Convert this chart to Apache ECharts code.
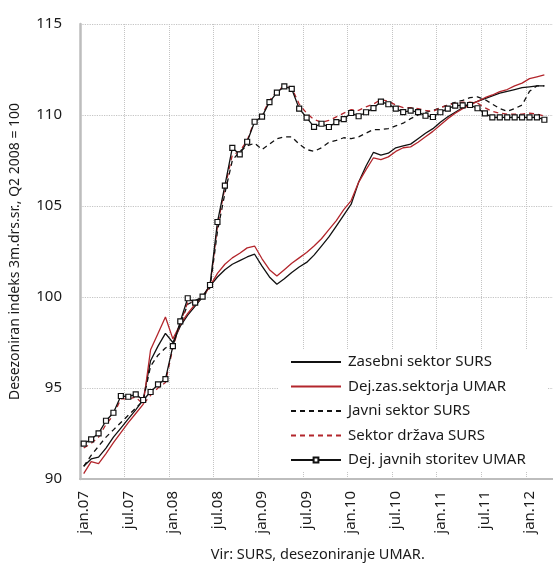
<!DOCTYPE html>
<html>
<head>
<meta charset="utf-8">
<script src="https://cdn.jsdelivr.net/npm/echarts@6/dist/echarts.min.js"></script>
<style>
  html, body { margin: 0; padding: 0; background: #fff; }
  #chart { width: 553px; height: 564px; }
</style>
</head>
<body>
<div id="chart"></div>
<script>
// Monthly categories jan.07 – apr.12
const monthNames = ['jan', 'feb', 'mar', 'apr', 'maj', 'jun', 'jul', 'avg', 'sep', 'okt', 'nov', 'dec'];
const years = ['07', '08', '09', '10', '11', '12'];
const categories = [];
years.forEach(function (y) {
  monthNames.forEach(function (m) {
    if (categories.length < 64) categories.push(m + '.' + y);
  });
});

// Seasonally adjusted indices, Q2 2008 = 100
const zasebniSURS = [
  90.7, 91.1, 91.2, 91.7, 92.3, 92.8, 93.3, 93.8, 94.35, 96.5,
  97.3, 98.0, 97.5, 98.4, 99.0, 99.5, 100.0, 100.6, 101.1, 101.5,
  101.8, 102.0, 102.2, 102.35, 101.7, 101.1, 100.7, 101.0, 101.35, 101.65,
  101.9, 102.3, 102.8, 103.3, 103.9, 104.5, 105.1, 106.3, 107.2, 107.95,
  107.8, 107.9, 108.2, 108.3, 108.4, 108.7, 109.0, 109.25, 109.6, 109.9,
  110.15, 110.4, 110.6, 110.75, 110.9, 111.05, 111.2, 111.3, 111.4, 111.5,
  111.55, 111.6, 111.6
];
const zasUMAR = [
  90.3, 90.95, 90.85, 91.4, 92.0, 92.55, 93.1, 93.6, 94.1, 97.1,
  98.0, 98.9, 97.7, 98.5, 99.1, 99.6, 100.05, 100.6, 101.3, 101.8,
  102.15, 102.4, 102.7, 102.8, 102.1, 101.5, 101.15, 101.5, 101.85, 102.15,
  102.45, 102.8, 103.2, 103.7, 104.2, 104.8, 105.3, 106.3, 107.0, 107.65,
  107.55, 107.7, 108.0, 108.2, 108.25, 108.5, 108.8, 109.1, 109.45, 109.8,
  110.1, 110.35, 110.55, 110.75, 110.95, 111.1, 111.28, 111.4, 111.6, 111.75,
  112.0, 112.1, 112.2
];
const javniSURS = [
  90.7, 91.3, 91.8, 92.3, 92.7, 93.1, 93.5, 93.9, 94.3, 96.2,
  96.8, 97.2, 97.4, 98.5, 99.6, 99.8, 100.0, 100.5, 103.6, 105.7,
  107.5, 108.0, 108.3, 108.45, 108.1, 108.4, 108.7, 108.8, 108.8, 108.4,
  108.1, 108.0, 108.2, 108.5, 108.6, 108.75, 108.7, 108.8, 109.0, 109.2,
  109.2, 109.25, 109.4, 109.55, 109.8, 110.0, 110.15, 110.25, 110.4, 110.55,
  110.7, 110.8, 110.95, 111.0, 110.85, 110.6, 110.35, 110.2, 110.35, 110.55,
  111.3, 111.6, 111.6
];
const drzavaSURS = [
  91.7, 91.95, 92.3, 93.0, 93.5, 94.4, 94.4, 94.5, 94.1, 94.6,
  95.0, 95.3, 97.2, 98.6, 99.7, 99.75, 100.0, 100.6, 103.9, 106.0,
  107.8, 108.0, 108.6, 109.7, 110.0, 110.8, 111.3, 111.6, 111.5, 110.6,
  110.1, 109.75, 109.6, 109.7, 109.9, 110.1, 110.3, 110.25, 110.45, 110.6,
  110.85, 110.75, 110.55, 110.4, 110.4, 110.35, 110.25, 110.2, 110.4, 110.55,
  110.65, 110.7, 110.7, 110.65, 110.4, 110.2, 110.1, 110.05, 110.05, 110.05,
  110.1, 110.05, 109.95
];
const javneStoritveUMAR = [
  91.94, 92.18, 92.51, 93.2, 93.64, 94.56, 94.52, 94.65, 94.34, 94.78,
  95.2, 95.49, 97.3, 98.66, 99.93, 99.69, 100.02, 100.66, 104.12, 106.12,
  108.19, 107.84, 108.53, 109.63, 109.91, 110.71, 111.23, 111.57, 111.43, 110.35,
  109.86, 109.35, 109.52, 109.34, 109.61, 109.77, 110.11, 109.93, 110.15, 110.38,
  110.73, 110.59, 110.35, 110.16, 110.24, 110.16, 109.96, 109.89, 110.15, 110.35,
  110.51, 110.53, 110.55, 110.37, 110.09, 109.87, 109.87, 109.87, 109.87, 109.87,
  109.87, 109.87, 109.74
];

const seriesNames = [
  'Zasebni sektor SURS',
  'Dej.zas.sektorja UMAR',
  'Javni sektor SURS',
  'Sektor država SURS',
  'Dej. javnih storitev UMAR'
];

const yTicks = { min: 90, max: 115, interval: 5 };

const FONT = 'Noto Sans';
const RED = '#b3262c';
const GRID_GREY = '#c4c4c4';

function lineSeries(name, data, color, dashed) {
  return {
    name: name,
    type: 'line',
    data: data,
    symbol: 'none',
    showSymbol: false,
    lineStyle: { color: color, width: 1.3, type: dashed ? [5, 4] : 'solid' },
    itemStyle: { color: color },
    emphasis: { disabled: true },
    animation: false,
    z: 3
  };
}

// legend entries: plain line samples, small square on the last one
const noMarker = { color: 'rgba(0,0,0,0)', borderWidth: 0, borderColor: 'rgba(0,0,0,0)' };
const legendData = seriesNames.map(function (n, i) {
  return i < 4 ? { name: n, itemStyle: noMarker } : { name: n };
});

const chart = echarts.init(document.getElementById('chart'), null, { renderer: 'canvas' });

chart.setOption({
  animation: false,
  backgroundColor: '#ffffff',
  textStyle: { fontFamily: FONT },
  grid: {
    left: 80, top: 24, width: 475.5, height: 455,
    containLabel: false,
    outerBoundsMode: 'none'
  },
  legend: {
    orient: 'vertical',
    left: 279,
    top: 350,
    padding: [3, 22, 3, 11],
    backgroundColor: '#ffffff',
    itemWidth: 50,
    itemHeight: 6,
    itemGap: 6.5,
    textStyle: { fontFamily: FONT, fontSize: 15, lineHeight: 18, color: '#1a1a1a', padding: [0, 0, 0, 2] },
    data: legendData,
    z: 10
  },
  xAxis: {
    type: 'category',
    data: categories,
    boundaryGap: true,
    name: 'Vir: SURS, desezoniranje UMAR.',
    nameLocation: 'middle',
    nameGap: 68,
    nameTextStyle: { fontFamily: FONT, fontSize: 14.5, color: '#1a1a1a' },
    axisLine: { show: true, lineStyle: { color: '#bdbdbd', width: 2 } },
    axisTick: { show: false },
    axisLabel: {
      interval: 5,
      rotate: 90,
      margin: 12,
      fontFamily: FONT,
      fontSize: 15,
      color: '#1a1a1a'
    },
    splitLine: {
      show: true,
      interval: 5,
      lineStyle: { color: GRID_GREY, type: 'dotted', width: 1 }
    }
  },
  yAxis: {
    type: 'value',
    min: yTicks.min,
    max: yTicks.max,
    interval: yTicks.interval,
    name: 'Desezoniran indeks 3m.drs.sr., Q2 2008 = 100',
    nameLocation: 'middle',
    nameGap: 58,
    nameRotate: 90,
    nameTextStyle: { fontFamily: FONT, fontSize: 14, color: '#1a1a1a' },
    axisLine: { show: true, lineStyle: { color: '#bdbdbd', width: 2.5 } },
    axisTick: { show: false },
    axisLabel: { margin: 18, fontFamily: FONT, fontSize: 15, color: '#1a1a1a' },
    splitLine: { show: true, lineStyle: { color: GRID_GREY, type: 'dotted', width: 1.2 } }
  },
  series: [
    lineSeries(seriesNames[0], zasebniSURS, '#111111', false),
    lineSeries(seriesNames[1], zasUMAR, RED, false),
    lineSeries(seriesNames[2], javniSURS, '#111111', true),
    lineSeries(seriesNames[3], drzavaSURS, RED, true),
    {
      name: seriesNames[4],
      type: 'line',
      data: javneStoritveUMAR,
      symbol: 'rect',
      symbolSize: 5,
      showSymbol: true,
      showAllSymbol: true,
      lineStyle: { color: '#111111', width: 1.3 },
      itemStyle: { color: '#ffffff', borderColor: '#111111', borderWidth: 1.2 },
      emphasis: { disabled: true },
      animation: false,
      z: 4
    }
  ]
});
</script>
</body>
</html>
